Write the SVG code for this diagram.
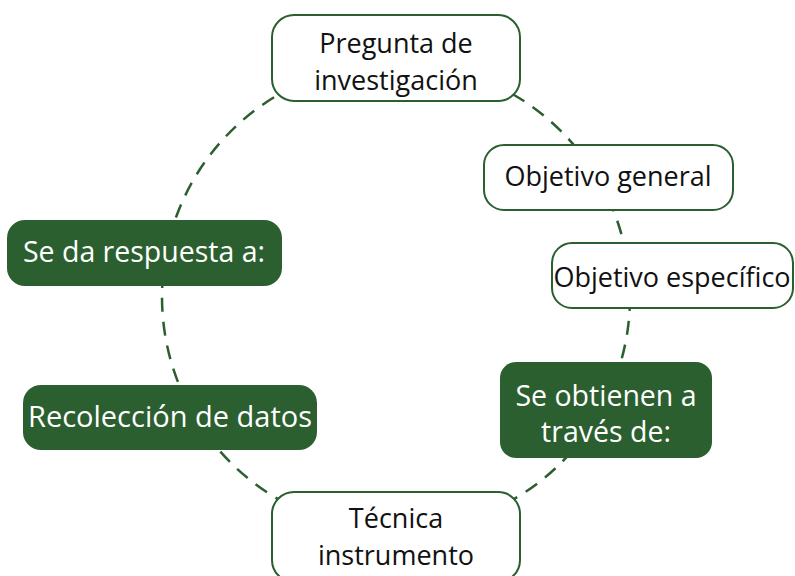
<svg xmlns="http://www.w3.org/2000/svg" width="795" height="576" viewBox="0 0 795 576">
<style>
.box{fill:#ffffff;stroke:#2b5f2f;stroke-width:2}
.dark{fill:#2b5f2f;stroke:none}
.t{font-family:"Open Sans","Noto Sans","Liberation Sans",sans-serif;text-anchor:middle;fill:#111111}
.w{fill:#ffffff}
.link{fill:none;stroke:#2b5f2f;stroke-width:2.5;stroke-dasharray:14 10}
</style>
<rect width="795" height="576" fill="#ffffff"/>
<g id="connectors">
<circle class="link" cx="396" cy="297" r="234"/>
</g>
<g id="n-pregunta">
<rect class="box" x="272" y="15" width="248" height="86" rx="22"/>
<text class="t" x="396" y="53" font-size="27">Pregunta de</text>
<text class="t" x="396" y="90" font-size="27">investigación</text>
</g>
<g id="n-general">
<rect class="box" x="484" y="145" width="249" height="65" rx="20"/>
<text class="t" x="608" y="186" font-size="27">Objetivo general</text>
</g>
<g id="n-especifico">
<rect class="box" x="552" y="243" width="241" height="65" rx="20"/>
<text class="t" x="672" y="287" font-size="27">Objetivo específico</text>
</g>
<g id="n-obtienen">
<rect class="dark" x="500" y="362" width="212" height="96" rx="16"/>
<text class="t w" x="606" y="406" font-size="28.5">Se obtienen a</text>
<text class="t w" x="606" y="442" font-size="28.5">través de:</text>
</g>
<g id="n-respuesta">
<rect class="dark" x="7" y="220" width="275" height="66" rx="18"/>
<text class="t w" x="144" y="262" font-size="28.5">Se da respuesta a:</text>
</g>
<g id="n-recoleccion">
<rect class="dark" x="23" y="385" width="294" height="65" rx="18"/>
<text class="t w" x="170" y="427" font-size="29">Recolección de datos</text>
</g>
<g id="n-tecnica">
<rect class="box" x="272" y="492" width="248" height="90" rx="22"/>
<text class="t" x="396" y="528" font-size="27">Técnica</text>
<text class="t" x="396" y="565" font-size="27">instrumento</text>
</g>
</svg>
